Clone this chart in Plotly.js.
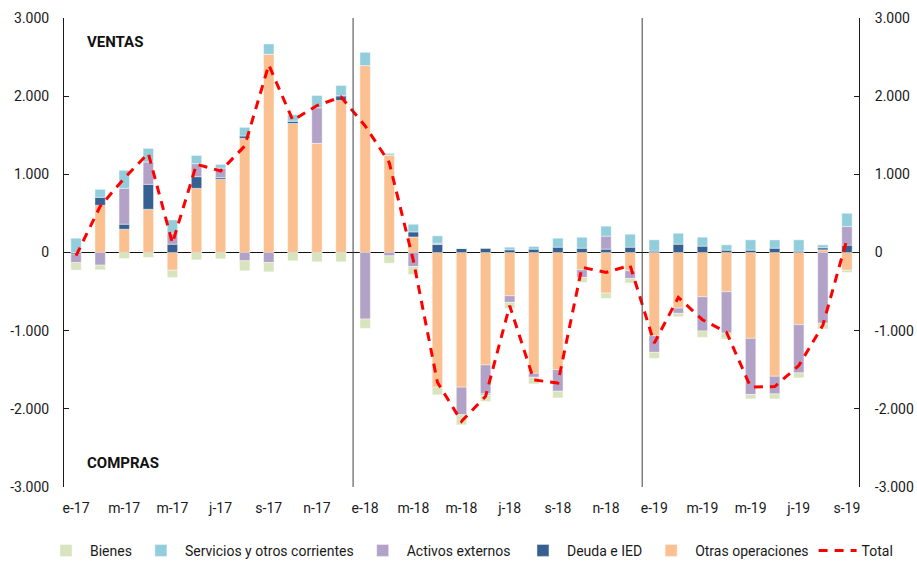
<!DOCTYPE html>
<html>
<head>
<meta charset="utf-8">
<script src="https://cdn.plot.ly/plotly-3.0.1.min.js"></script>
<style>html,body{margin:0;padding:0;background:#fff;}#chart{width:917px;height:561px;}</style>
</head>
<body>
<div id="chart"></div>
<script>
const months = ['ene-17','feb-17','mar-17','abr-17','may-17','jun-17','jul-17','ago-17','sep-17','oct-17','nov-17','dic-17',
                'ene-18','feb-18','mar-18','abr-18','may-18','jun-18','jul-18','ago-18','sep-18','oct-18','nov-18','dic-18',
                'ene-19','feb-19','mar-19','abr-19','may-19','jun-19','jul-19','ago-19','sep-19'];
const tickMonths = ['ene-17','mar-17','may-17','jul-17','sep-17','nov-17','ene-18','mar-18','may-18','jul-18','sep-18','nov-18','ene-19','mar-19','may-19','jul-19','sep-19'];
const tickLabels = ['e-17','m-17','m-17','j-17','s-17','n-17','e-18','m-18','m-18','j-18','s-18','n-18','e-19','m-19','m-19','j-19','s-19'];

const otras     = [0, 604, 298, 553, -226, 821, 936, 1460, 2536, 1651, 1396, 1945,
                   2391, 1247, 199, -1723, -1723, -1438, -553, -1545, -1498, -221, -519, -234,
                   -1064, -711, -566, -502, -1098, -1583, -923, 34, -226];
const deuda     = [-20, 102, 64, 319, 106, 149, 21, 30, 0, 30, 0, 60,
                   0, 0, 64, 102, 51, 51, 34, 43, 68, 55, 43, 68,
                   17, 106, 81, 30, 30, 55, 17, 26, 94];
const activos   = [-110, -162, 460, 285, 140, 166, 123, -106, -128, 0, 455, 0,
                   -851, -43, -179, 17, -353, -370, -85, -51, -277, -98, 166, -98,
                   -213, -68, -438, -528, -719, -226, -617, -906, 238];
const servicios = [183, 102, 230, 175, 170, 106, 47, 111, 132, 81, 157, 132,
                   170, 21, 98, 94, 0, -20, 34, 34, 115, 140, 128, 166,
                   145, 140, 115, 68, 132, 106, 145, 38, 170];
const bienes    = [-95, -60, -77, -64, -94, -94, -81, -128, -119, -106, -119, -119,
                   -119, -94, -102, -98, -128, -77, -77, -85, -85, -64, -68, -60,
                   -77, -43, -81, -77, -55, -64, -64, -72, -30];
const total     = [-40, 590, 950, 1268, 120, 1128, 1043, 1362, 2400, 1690, 1880, 1990,
                   1620, 1150, -100, -1660, -2160, -1840, -680, -1630, -1670, -190, -255, -165,
                   -1160, -574, -860, -1020, -1720, -1715, -1447, -930, 170];

const yTickVals = [3000, 2000, 1000, 0, -1000, -2000, -3000];
const yTickText = ['3.000', '2.000', '1.000', '0', '-1.000', '-2.000', '-3.000'];

const edge = {color: 'rgba(255,255,255,0.7)', width: 0.6};
function barTrace(name, vals, color, rank, leg) {
  return {type: 'bar', name: name, x: months, y: vals, legendrank: rank, legend: leg,
          marker: {color: color, line: edge}, hoverinfo: 'x+y+name'};
}
const data = [
  barTrace('Otras operaciones', otras, '#fac090', 5, 'legend2'),
  barTrace('Deuda e IED', deuda, '#366092', 4, 'legend2'),
  barTrace('Activos externos', activos, '#b3a2c7', 3, 'legend'),
  barTrace('Servicios y otros corrientes', servicios, '#92cddc', 2, 'legend'),
  barTrace('Bienes', bienes, '#d7e4bd', 1, 'legend'),
  {type: 'scatter', mode: 'lines', name: 'Total', x: months, y: total, yaxis: 'y2', legendrank: 6, legend: 'legend2',
   line: {color: '#ff0000', width: 3, dash: '9px,7px'}}
];

const axisFont = {family: 'Roboto, Arial, sans-serif', size: 14, color: '#1a1a1a'};
const legFont = {family: 'Roboto, Arial, sans-serif', size: 14, color: '#1a1a1a'};
const layout = {
  width: 917, height: 561,
  margin: {l: 64, r: 58, t: 18, b: 74, pad: 0, autoexpand: false},
  paper_bgcolor: '#ffffff', plot_bgcolor: '#ffffff',
  barmode: 'relative', bargap: 0.57,
  showlegend: true,
  legend: {orientation: 'h', x: -0.0277, xanchor: 'left', y: -0.136, yanchor: 'middle',
           font: legFont, traceorder: 'normal', itemwidth: 38, tracegroupgap: 0},
  legend2: {orientation: 'h', x: 0.5723, xanchor: 'left', y: -0.136, yanchor: 'middle',
           font: legFont, traceorder: 'normal', itemwidth: 38, tracegroupgap: 0},
  xaxis: {type: 'category', categoryorder: 'array', categoryarray: months,
          range: [-0.5, 32.5], tickmode: 'array', tickvals: tickMonths, ticktext: tickLabels,
          showgrid: false, showline: false, ticks: '', zeroline: false,
          tickfont: axisFont, ticklabelstandoff: 11, fixedrange: true},
  yaxis: {range: [-3000, 3000], tickmode: 'array', tickvals: yTickVals, ticktext: yTickText,
          showgrid: false, showline: true, linecolor: '#1a1a1a', linewidth: 1,
          ticks: 'inside', ticklen: 5, tickcolor: '#1a1a1a',
          zeroline: true, zerolinecolor: '#111111', zerolinewidth: 1.5,
          tickfont: axisFont, ticklabelstandoff: 11, fixedrange: true},
  yaxis2: {range: [-3000, 3000], overlaying: 'y', side: 'right', tickmode: 'array',
           tickvals: yTickVals, ticktext: yTickText,
           showgrid: false, showline: true, linecolor: '#1a1a1a', linewidth: 1,
           ticks: 'inside', ticklen: 5, tickcolor: '#1a1a1a', zeroline: false,
           tickfont: axisFont, ticklabelstandoff: 12, fixedrange: true},
  shapes: [
    {type: 'line', xref: 'x', yref: 'paper', x0: 11.5, x1: 11.5, y0: 0, y1: 1,
     line: {color: '#404040', width: 1}},
    {type: 'line', xref: 'x', yref: 'paper', x0: 23.5, x1: 23.5, y0: 0, y1: 1,
     line: {color: '#404040', width: 1}}
  ],
  annotations: [
    {text: '<b>VENTAS</b>', xref: 'paper', yref: 'paper', x: 0.027, y: 0.949, xanchor: 'left', yanchor: 'middle',
     showarrow: false, font: {family: 'Roboto, Arial, sans-serif', size: 15, color: '#111111'}},
    {text: '<b>COMPRAS</b>', xref: 'paper', yref: 'paper', x: 0.027, y: 0.051, xanchor: 'left', yanchor: 'middle',
     showarrow: false, font: {family: 'Roboto, Arial, sans-serif', size: 15, color: '#111111'}}
  ]
};

Plotly.newPlot('chart', data, layout, {displayModeBar: false, staticPlot: true});
</script>
</body>
</html>
